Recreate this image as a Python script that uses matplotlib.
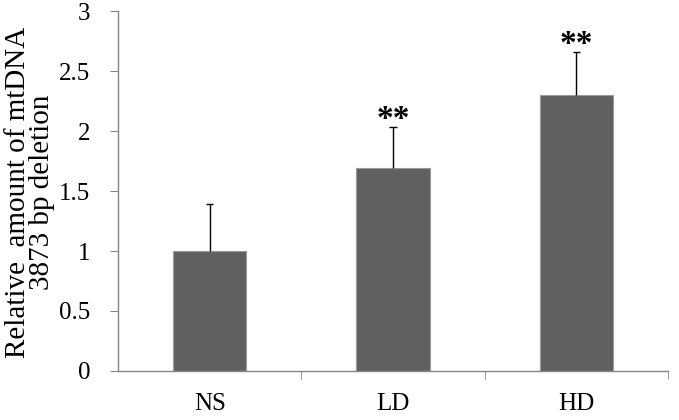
import matplotlib.pyplot as plt
import numpy as np

# data
groups = ["NS", "LD", "HD"]
means = [1.0, 1.69, 2.30]
errs = [0.39, 0.34, 0.36]
marks = ["", "**", "**"]

plt.rcParams['font.family'] = ['Liberation Serif', 'DejaVu Serif']

fig = plt.figure(figsize=(6.79, 4.2), dpi=100)
ax = fig.add_axes([0.1738, 0.1167, 0.81, 0.857])

x = np.arange(len(groups))
ax.bar(x, means, width=0.4, color="#606060", edgecolor="#9a9a9a", linewidth=0.8, zorder=2)

# upper-only error bars: stem plus a single cap
tops = [m + e for m, e in zip(means, errs)]
ax.vlines(x, means, tops, color="black", linewidth=1, zorder=3)
ax.hlines(tops, x - 0.02, x + 0.02, color="black", linewidth=1, zorder=3)

# significance stars above the error bars
for xi, t, s in zip(x, tops, marks):
    if s:
        ax.text(xi, t - 0.065, s, ha="center", va="bottom",
                fontsize=24, fontweight="bold")

ax.set_xlim(-0.5, 2.5)
ax.set_ylim(0, 3)
ax.set_yticks(np.arange(0, 3.01, 0.5))
ax.set_yticklabels(["0", "0.5", "1", "1.5", "2", "2.5", "3"], fontsize=18)

# category labels centred, ticks at category boundaries
ax.set_xticks(x)
ax.set_xticklabels(groups, fontsize=18)
ax.tick_params(axis="x", length=0, pad=16)
ax.set_xticks([0.5, 1.5, 2.5], minor=True)
ax.tick_params(axis="x", which="minor", length=6, color="#868686", direction="out")
ax.tick_params(axis="y", length=6, color="#868686", direction="out", pad=14)

for side in ["top", "right"]:
    ax.spines[side].set_visible(False)
for side in ["left", "bottom"]:
    ax.spines[side].set_color("#868686")
    ax.spines[side].set_linewidth(1)

ax.set_ylabel("Relative  amount of mtDNA\n3873 bp deletion", fontsize=21,
              linespacing=0.92)
ax.yaxis.set_label_coords(-0.114, 0.497)

fig.savefig("out.png", dpi=100)
